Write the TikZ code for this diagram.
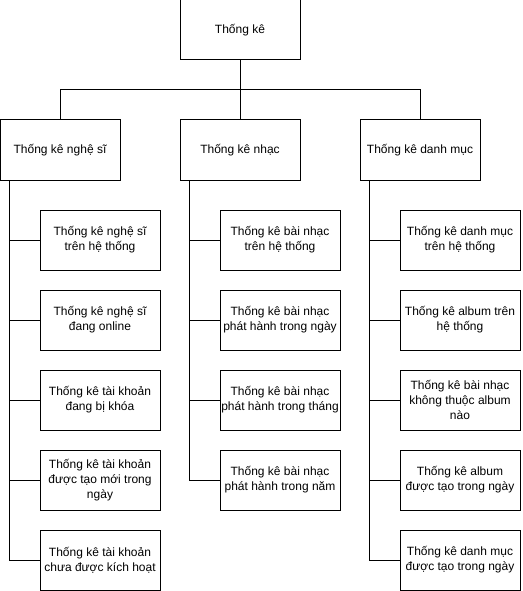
\documentclass[tikz,border=0pt]{standalone}
\usepackage{fontspec}
\setmainfont{Liberation Sans}
\usepackage{tikz}
\usetikzlibrary{positioning}

\begin{document}
\begin{tikzpicture}[x=1pt, y=-1pt, line width=1pt,
    box/.style={draw, minimum width=120pt, minimum height=60pt, align=center, inner sep=1pt,
        font=\fontsize{12}{15}\selectfont}]

\useasboundingbox (0,0) rectangle (522,591);

% root and first level
\node[box] (root) at (240,30) {Thống kê};
\node[box] (nghesi) at (60,150) {Thống kê nghệ sĩ};
\node[box] (nhac) at (240,150) {Thống kê nhạc};
\node[box] (danhmuc) at (420,150) {Thống kê danh mục};

\coordinate (busL) at (60,90);
\coordinate (busR) at (420,90);
\draw (root.south) -- (root.south |- busL);
\draw (nghesi.north) -- (busL) -- (busR) -- (danhmuc.north);
\draw (nhac.north) -- (nhac.north |- busL);

% nghe si
\node[box] (ns1) at (100,240) {Thống kê nghệ sĩ\\trên hệ thống};
\node[box] (ns2) at (100,320) {Thống kê nghệ sĩ\\đang online};
\node[box] (ns3) at (100,400) {Thống kê tài khoản\\đang bị khóa};
\node[box] (ns4) at (100,480) {Thống kê tài khoản\\được tạo mới trong\\ngày};
\node[box] (ns5) at (100,560) {Thống kê tài khoản\\chưa được kích hoạt};

% nhac
\node[box] (nh1) at (280,240) {Thống kê bài nhạc\\trên hệ thống};
\node[box] (nh2) at (280,320) {Thống kê bài nhạc\\phát hành trong ngày};
\node[box] (nh3) at (280,400) {Thống kê bài nhạc\\phát hành trong tháng};
\node[box] (nh4) at (280,480) {Thống kê bài nhạc\\phát hành trong năm};

% danh muc
\node[box] (dm1) at (460,240) {Thống kê danh mục\\trên hệ thống};
\node[box] (dm2) at (460,320) {Thống kê album trên\\hệ thống};
\node[box] (dm3) at (460,400) {Thống kê bài nhạc\\không thuộc album\\nào};
\node[box] (dm4) at (460,480) {Thống kê album\\được tạo trong ngày};
\node[box] (dm5) at (460,560) {Thống kê danh mục\\được tạo trong ngày};

% trunks
\draw ([xshift=10pt]nghesi.south west) |- (ns5.west);
\draw ([xshift=10pt]nhac.south west) |- (nh4.west);
\draw ([xshift=10pt]danhmuc.south west) |- (dm5.west);
\foreach \i in {1,...,4} {
    \draw (ns\i.west) -- ++(-30,0);
    \draw (dm\i.west) -- ++(-30,0);
}
\foreach \i in {1,...,3}
    \draw (nh\i.west) -- ++(-30,0);

\end{tikzpicture}
\end{document}
